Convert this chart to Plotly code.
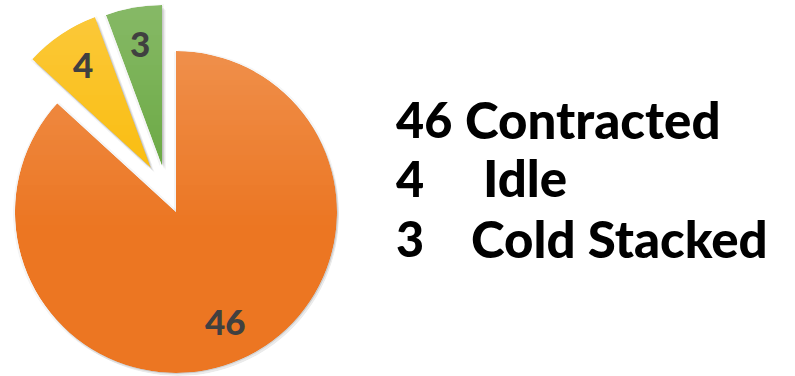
import math
import plotly.graph_objects as go

# Fleet status breakdown
categories = ["Contracted", "Idle", "Cold Stacked"]
counts = [46, 4, 3]
row_numbers = ["46", "4", "3"]

W, H = 795, 376
slice_colors = ["#EC7622", "#FAB900", "#62A438"]
label_color = "#404040"

# pie geometry in pixels
CX, CY, R = 176, 212, 161
# exploded offset of each wedge's apex (pixels, x right / y down)
explode = [(0, 0), (-25, -44), (-14, -46)]
# soft drop shadow: (dx, dy, opacity) layers drawn under each wedge
shadow_layers = [(-2, 1, 0.06), (2, -1, 0.05), (4, 5, 0.05), (3, 4, 0.07),
                 (2, 3, 0.10), (1, 1, 0.12)]
# vertical sheen over the pie: white, strongest at the top
SHEEN_TOP, SHEEN_END, SHEEN_MAX = 0, 230, 0.24


def sector_bbox(s0, s1):
    """Bounding box of a polar sector (unit radius, including the origin),
    using the same rules as plotly.js so the subplot can be placed exactly."""
    arc = s1 - s0
    a0 = s0 % 360
    a1 = a0 + arc
    ax0, ay0 = math.cos(math.radians(a0)), math.sin(math.radians(a0))
    ax1, ay1 = math.cos(math.radians(a1)), math.sin(math.radians(a1))
    if (a0 <= 90 and a1 >= 90) or (a0 > 90 and a1 >= 450):
        y1 = 1
    elif ay0 <= 0 and ay1 <= 0:
        y1 = 0
    else:
        y1 = max(ay0, ay1)
    if (a0 <= 180 and a1 >= 180) or (a0 > 180 and a1 >= 540):
        x0 = -1
    elif ax0 >= 0 and ax1 >= 0:
        x0 = 0
    else:
        x0 = min(ax0, ax1)
    if (a0 <= 270 and a1 >= 270) or (a0 > 270 and a1 >= 630):
        y0 = -1
    elif ay0 >= 0 and ay1 >= 0:
        y0 = 0
    else:
        y0 = min(ay0, ay1)
    if a1 >= 360:
        x1 = 1
    elif ax0 <= 0 and ax1 <= 0:
        x1 = 0
    else:
        x1 = max(ax0, ax1)
    return x0, y0, x1, y1


fig = go.Figure()
layout_polars = {}
n_sub = [0]


def add_wedge(cx, cy, start, end, value, name, color):
    """One wedge (clockwise degrees from 12 o'clock) in its own polar subplot
    whose centre sits at pixel (cx, cy)."""
    sector = [90 - end, 90 - start]
    bx0, by0, bx1, by1 = sector_bbox(*sector)
    x_left = cx + R * bx0
    y_top = cy - R * by1
    x_right = x_left + R * (bx1 - bx0)
    y_bot = y_top + R * (by1 - by0)
    if x_left < 0 or y_top < 0 or x_right > W or y_bot > H:
        return
    n_sub[0] += 1
    k = n_sub[0]
    key = "polar" if k == 1 else f"polar{k}"
    fig.add_trace(go.Barpolar(
        r=[1], theta=[(start + end) / 2], width=[end - start],
        customdata=[value], name=name,
        marker=dict(color=color, line=dict(width=0)),
        hoverinfo="skip", subplot=key, showlegend=False,
    ))
    layout_polars[key] = dict(
        domain=dict(x=[x_left / W, x_right / W], y=[1 - y_bot / H, 1 - y_top / H]),
        sector=sector,
        bgcolor="rgba(0,0,0,0)",
        radialaxis=dict(visible=False, range=[0, 1]),
        angularaxis=dict(visible=False, rotation=90, direction="clockwise"),
    )


total = sum(counts)
bounds = []
start = 0.0
for val in counts:
    end = start + 360.0 * val / total
    bounds.append((start, end))
    start = end

# shadows first, then the coloured wedges on top
for (sdx, sdy, alpha) in shadow_layers:
    for i, (cat, val) in enumerate(zip(categories, counts)):
        dx, dy = explode[i]
        add_wedge(CX + dx + sdx, CY + dy + sdy, *bounds[i], val, cat,
                  f"rgba(60,60,60,{alpha})")

annotations = []
for i, (cat, val) in enumerate(zip(categories, counts)):
    dx, dy = explode[i]
    cx, cy = CX + dx, CY + dy
    s, e = bounds[i]
    add_wedge(cx, cy, s, e, val, cat, slice_colors[i])
    # value label along the wedge's mid-angle
    mid = math.radians((s + e) / 2)
    lx = cx + 0.76 * R * math.sin(mid)
    ly = cy - 0.76 * R * math.cos(mid) - 3
    annotations.append(dict(
        x=lx / W, y=1 - ly / H, xref="paper", yref="paper",
        text=str(val), showarrow=False,
        font=dict(family="Lato", size=35, color=label_color, weight=900),
        xanchor="center", yanchor="middle",
    ))

# light-to-dark vertical sheen across the pie area (white over white is invisible)
shapes = []
band = 5
for y in range(SHEEN_TOP, SHEEN_END, band):
    a = SHEEN_MAX * (1 - (y + band / 2 - SHEEN_TOP) / (SHEEN_END - SHEEN_TOP))
    shapes.append(dict(
        type="rect", xref="paper", yref="paper", layer="above",
        x0=0, x1=350 / W, y0=1 - (y + band) / H, y1=1 - y / H,
        fillcolor="white", opacity=max(a, 0), line=dict(width=0),
    ))

# right-hand key
row_y = [119.5, 178, 238]
label_x = [463, 481, 469]
for num, cat, yy, lx in zip(row_numbers, categories, row_y, label_x):
    for txt, xx, size in ((num, 394, 48.5), (cat, lx, 51)):
        annotations.append(dict(
            x=xx / W, y=1 - yy / H, xref="paper", yref="paper",
            text=txt, showarrow=False, xanchor="left", yanchor="middle",
            font=dict(family="Lato", size=size, color="#000000", weight=900),
        ))

fig.update_layout(
    width=W, height=H,
    margin=dict(l=0, r=0, t=0, b=0),
    paper_bgcolor="white",
    plot_bgcolor="white",
    annotations=annotations,
    shapes=shapes,
    showlegend=False,
    **layout_polars,
)

fig.write_html("out.html")
